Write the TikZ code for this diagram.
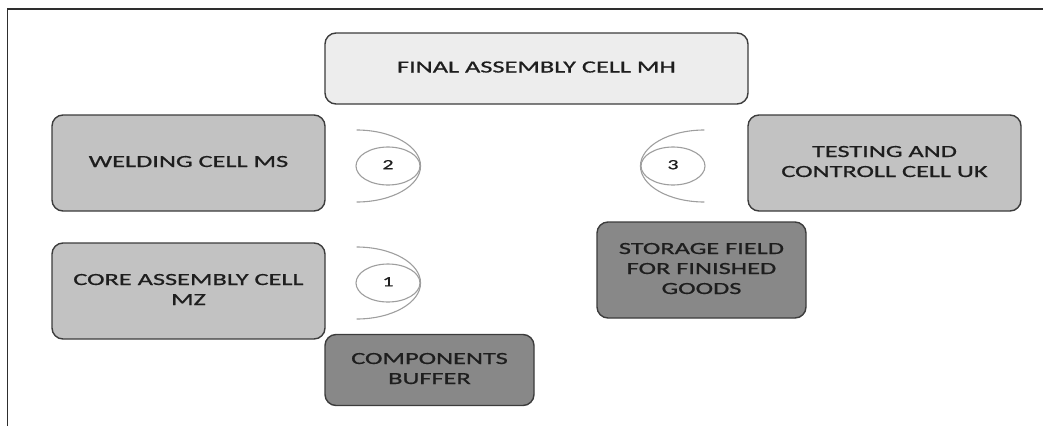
\documentclass[tikz,border=0pt]{standalone}
\usepackage{fontspec}
\setmainfont{Carlito}
\newfontfamily\cellfont{Carlito}[FakeBold=0.7]
\usepackage{graphicx}
\usetikzlibrary{shapes.geometric}
\definecolor{framec}{HTML}{2E2E2E}
\definecolor{boxline}{HTML}{3C3C3C}
\definecolor{lightfill}{HTML}{EDEDED}
\definecolor{midfill}{HTML}{C2C2C2}
\definecolor{darkfill}{HTML}{888888}
\definecolor{ringc}{HTML}{9E9E9E}
\definecolor{txt}{HTML}{1E1E1E}
\newcommand{\lbl}[1]{\scalebox{1.55}[1]{\begin{tabular}{@{}c@{}}#1\end{tabular}}}
\tikzset{
  cell/.style={draw=boxline, line width=1.4pt, rounded corners=11pt, text=txt,
    inner sep=0pt, font=\cellfont\fontsize{17}{20}\selectfont},
  lightcell/.style={cell, fill=lightfill},
  midcell/.style={cell, fill=midfill},
  darkcell/.style={cell, fill=darkfill},
  numring/.style={draw=ringc, line width=1.1pt, fill=white, ellipse, inner sep=0pt,
    minimum width=64pt, minimum height=38pt, text=txt, font=\cellfont\fontsize{14}{16}\selectfont},
  ringarc/.style={draw=ringc, line width=1.1pt},
  framel/.style={draw=framec, line width=1.5pt}
}
\begin{document}
\begin{tikzpicture}[x=1pt,y=-1pt]
\useasboundingbox (0,0) rectangle (1043,426);
\draw[framel] (7.5,426) -- (7.5,9) -- (1043,9);

\node[lightcell, minimum width=423pt, minimum height=71pt] (fa) at (536.5,68.5) {\lbl{FINAL ASSEMBLY CELL MH}};
\node[midcell, minimum width=273pt, minimum height=96pt] (ws) at (188.5,163) {\lbl{WELDING CELL MS}};
\node[midcell, minimum width=273pt, minimum height=96pt] (tc) at (884.5,163) {\lbl{TESTING AND\\CONTROLL CELL UK}};
\node[midcell, minimum width=273pt, minimum height=96pt] (ca) at (188.5,291) {\lbl{CORE ASSEMBLY CELL\\MZ}};
\node[darkcell, minimum width=209pt, minimum height=96pt] (sf) at (701.5,270) {\lbl{STORAGE FIELD\\FOR FINISHED\\GOODS}};
\node[darkcell, minimum width=209pt, minimum height=71pt] (cb) at (429.5,370) {\lbl{COMPONENTS\\BUFFER}};

\node[numring] (n2) at (388,166) {\lbl{2}};
\node[numring] (n1) at (388,283) {\lbl{1}};
\node[numring] (n3) at (673,166) {\lbl{3}};

\draw[ringarc] (n2.east) arc[start angle=0, end angle=90, x radius=64pt, y radius=36pt];
\draw[ringarc] (n2.east) arc[start angle=0, end angle=-90, x radius=64pt, y radius=36pt];
\draw[ringarc] (n1.east) arc[start angle=0, end angle=90, x radius=64pt, y radius=36pt];
\draw[ringarc] (n1.east) arc[start angle=0, end angle=-90, x radius=64pt, y radius=36pt];
\draw[ringarc] (n3.west) arc[start angle=180, end angle=90, x radius=64pt, y radius=36pt];
\draw[ringarc] (n3.west) arc[start angle=180, end angle=270, x radius=64pt, y radius=36pt];
\end{tikzpicture}
\end{document}
